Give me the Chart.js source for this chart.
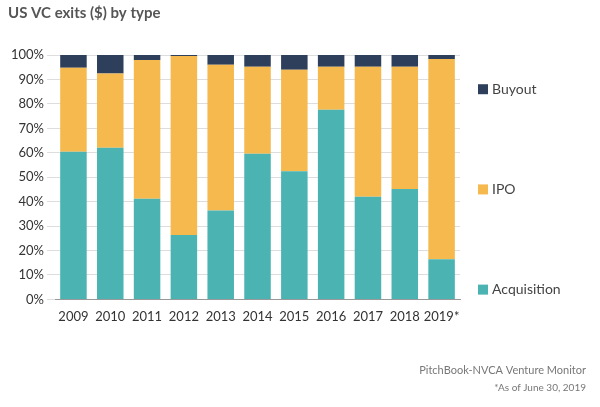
<!DOCTYPE html>
<html><head><meta charset="utf-8">
<script src="https://cdn.jsdelivr.net/npm/chart.js@4"></script>
<style>html,body{margin:0;padding:0;background:#fff}#w{width:600px;height:407px;position:relative}</style>
</head><body><div id="w"><canvas id="c"></canvas></div>
<script>
const years=['2009','2010','2011','2012','2013','2014','2015','2016','2017','2018','2019*'];
const acquisition=[60.4,62,41.2,26.4,36.4,59.6,52.4,77.6,42,45.2,16.4];
const ipo=[34.4,30.4,56.8,73.2,59.6,35.6,41.6,17.6,53.2,50,82];
const buyout=[5.2,7.6,2,0.4,4,4.8,6,4.8,4.8,4.8,1.6];
const legendItems=[['Buyout','#2e3f5c',86],['IPO','#f5b94e',45],['Acquisition','#4cb3b3',4]];
const F='Lato, sans-serif';
const side={id:'side',afterDraw(ch){const c=ch.ctx,y=ch.scales.y;c.save();c.font='14px '+F;c.textBaseline='middle';
legendItems.forEach(([t,col,v])=>{const py=y.getPixelForValue(v);c.fillStyle=col;c.fillRect(478,py-5,10,10);c.fillStyle='#444';c.fillText(t,492,py);});
c.font='11px '+F;c.fillStyle='#777';c.textAlign='right';c.fillText('PitchBook-NVCA Venture Monitor',586,370);c.font='10px '+F;c.fillText('*As of June 30, 2019',586,388);c.restore();}};
new Chart(document.getElementById('c'),{type:'bar',data:{labels:years,datasets:[
{label:'Acquisition',data:acquisition,backgroundColor:'#4cb3b3'},
{label:'IPO',data:ipo,backgroundColor:'#f5b94e'},
{label:'Buyout',data:buyout,backgroundColor:'#2e3f5c'}]},
options:{responsive:true,maintainAspectRatio:false,animation:false,
layout:{padding:{left:8,right:140,top:0,bottom:80}},
plugins:{legend:{display:false},tooltip:{enabled:false},
title:{display:true,text:'US VC exits ($) by type',align:'start',color:'#555',font:{family:F,size:15,weight:'bold'},padding:{top:4,bottom:33}}},
scales:{x:{stacked:true,grid:{display:false},border:{color:'#999'},ticks:{color:'#333',font:{family:F,size:13},padding:2,maxRotation:0,minRotation:0,autoSkip:false},categoryPercentage:1,barPercentage:0.88},
y:{stacked:true,min:0,max:100,border:{display:false},grid:{color:'#ddd'},ticks:{stepSize:10,color:'#333',font:{family:F,size:13},callback:v=>v+'%'}}}},
plugins:[side]});
</script></body></html>
